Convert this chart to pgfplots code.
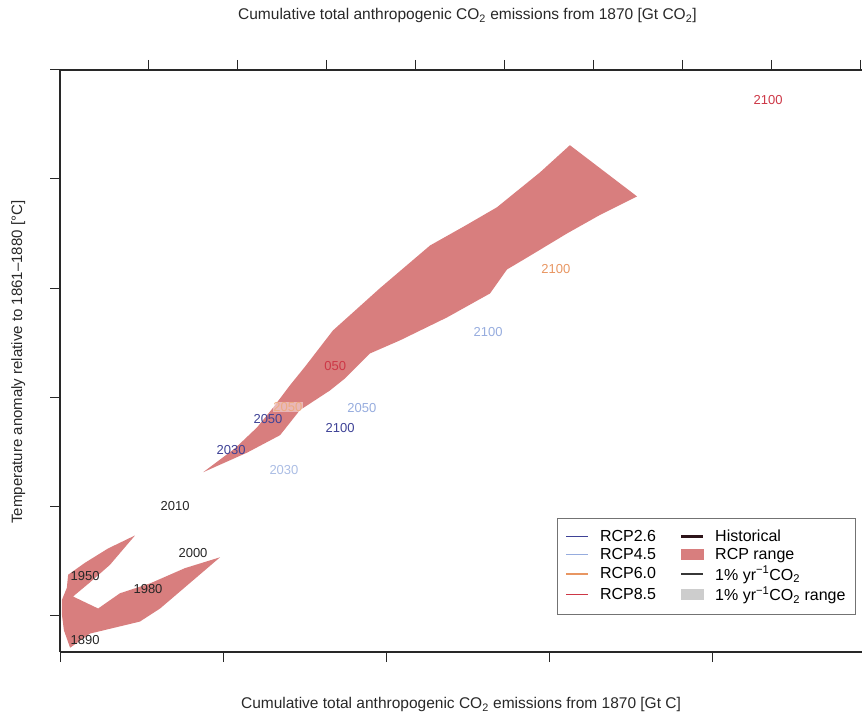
\documentclass[border=0pt]{standalone}
\usepackage{fontspec}
\setmainfont{Liberation Sans}
\usepackage{pgfplots}
\pgfplotsset{compat=1.18}
\definecolor{rcpfill}{RGB}{216,126,126}
\definecolor{rcptwo}{RGB}{62,66,150}
\definecolor{rcpfour}{RGB}{150,172,222}
\definecolor{rcpsix}{RGB}{232,150,98}
\definecolor{rcpeight}{RGB}{205,55,70}
\definecolor{histc}{RGB}{45,20,25}
\definecolor{onepc}{RGB}{55,55,55}
\definecolor{onepcrange}{RGB}{205,205,205}
\definecolor{axc}{RGB}{40,40,40}
\pgfplotsset{
  legline/.style={legend image code/.code={\draw[##1] (0bp,0bp) -- (22bp,0bp);}},
  legbox/.style={legend image code/.code={\fill[##1] (0bp,-5bp) rectangle (22bp,5bp);}},
  base/.style={
    at={(60bp,63bp)}, anchor=south west, scale only axis,
    width=802bp, height=582bp,
    xmin=0, xmax=2460, ymin=-0.339, ymax=5.0,
    tick align=outside, major tick length=10bp,
    axis line style={line width=1.2bp, axc},
    tick style={line width=1bp, axc},
    xticklabels={}, yticklabels={},
  },
}
\begin{document}
\begin{tikzpicture}
\path[use as bounding box] (0,0) rectangle (863bp,715bp);
% top axis (Gt CO2)
\begin{axis}[base,
  axis x line*=top, axis y line=none,
  xtick={272.73,545.45,818.18,1090.91,1363.64,1636.36,1909.09,2181.82,2454.55},
  xlabel={Cumulative total anthropogenic CO\textsubscript{2} emissions from 1870 [Gt CO\textsubscript{2}]},
  xlabel style={at={(axis description cs:0.508,1.093)}, anchor=center, font=\fontsize{15.5bp}{18bp}\selectfont, text=axc},
]
\addplot[draw=none] coordinates {(0,0)};
\end{axis}
% main axis (Gt C)
\begin{axis}[base,
  axis x line*=bottom, axis y line*=left,
  xtick={0,500,1000,1500,2000},
  ytick={0,1,2,3,4,5},
  clip=false,
  xlabel={Cumulative total anthropogenic CO\textsubscript{2} emissions from 1870 [Gt C]},
  xlabel style={at={(axis description cs:0.5,-0.091)}, anchor=center, font=\fontsize{15.5bp}{18bp}\selectfont, text=axc},
  ylabel={Temperature anomaly relative to 1861–1880 [°C]},
  ylabel style={at={(axis description cs:-0.052,0.498)}, anchor=center, rotate=0, font=\fontsize{15bp}{18bp}\selectfont, text=axc},
  legend columns=2,
  legend cell align=left,
  legend style={at={(axis description cs:0.6197,0.231)}, anchor=north west,
    draw=black!55, line width=0.8bp, font=\fontsize{16bp}{18bp}\selectfont,
    row sep=1.2bp, inner xsep=8bp, inner ysep=10bp,
    /tikz/every odd column/.append style={column sep=9bp},
    /tikz/every even column/.append style={column sep=22bp}},
]
% historical range
\addplot[fill=rcpfill, draw=none, forget plot] coordinates {
 (230,0.73) (147,0.61) (77,0.48) (25,0.37) (21,0.25) (6,0.14) (6,0.00)
 (12,-0.14) (31,-0.30) (92,-0.17) (245,-0.06) (307,0.06) (491,0.53)
 (383,0.43) (276,0.29) (184,0.20) (117,0.06) (40,0.17) (92,0.30) (153,0.46)
} -- cycle;
% RCP range
\addplot[fill=rcpfill, draw=none, forget plot] coordinates {
 (439,1.31) (537,1.53) (604,1.72) (653,1.90) (706,2.11) (752,2.28) (837,2.61)
 (982,3.00) (1135,3.39) (1242,3.57) (1340,3.74) (1472,4.06) (1564,4.31)
 (1770,3.84) (1656,3.67) (1555,3.50) (1433,3.28) (1371,3.17) (1319,2.95)
 (1187,2.73) (1043,2.52) (951,2.40) (874,2.17) (828,2.06) (736,1.88)
 (675,1.65) (574,1.49)
} -- cycle;
% legend
\addlegendimage{legline, rcptwo, line width=1.6bp}
\addlegendentry{RCP2.6}
\addlegendimage{legline, histc, line width=2.2bp}
\addlegendentry{Historical}
\addlegendimage{legline, rcpfour, line width=1.6bp}
\addlegendentry{RCP4.5}
\addlegendimage{legbox, rcpfill}
\addlegendentry{RCP range}
\addlegendimage{legline, rcpsix, line width=1.6bp}
\addlegendentry{RCP6.0}
\addlegendimage{legline, onepc, line width=1.6bp}
\addlegendentry{1\% yr\textsuperscript{−1}CO\textsubscript{2}}
\addlegendimage{legline, rcpeight, line width=1.6bp}
\addlegendentry{RCP8.5}
\addlegendimage{legbox, onepcrange}
\addlegendentry{1\% yr\textsuperscript{−1}CO\textsubscript{2} range}
% year labels
\begin{scope}[font=\fontsize{13bp}{15bp}\selectfont]
\node[text=rcpeight] at (axis cs:2172,4.72) {2100};
\node[text=rcpsix] at (axis cs:1521,3.17) {2100};
\node[text=rcpfour] at (axis cs:1313,2.60) {2100};
\node[text=rcpeight] at (axis cs:844,2.28) {050};
\node[text=rcpsix!80, fill=white, fill opacity=0.45, text opacity=1, inner sep=0.5bp] at (axis cs:699,1.91) {2050};
\node[text=rcpfour] at (axis cs:926,1.90) {2050};
\node[text=rcptwo] at (axis cs:638,1.80) {2050};
\node[text=rcptwo] at (axis cs:859,1.72) {2100};
\node[text=rcptwo] at (axis cs:525,1.51) {2030};
\node[text=rcpfour!80] at (axis cs:687,1.33) {2030};
\node[text=black!85] at (axis cs:353,1.00) {2010};
\node[text=black!85] at (axis cs:408,0.57) {2000};
\node[text=black!85] at (axis cs:270,0.24) {1980};
\node[text=black!85] at (axis cs:77,0.36) {1950};
\node[text=black!85] at (axis cs:77,-0.23) {1890};
\end{scope}
\end{axis}
\end{tikzpicture}
\end{document}
